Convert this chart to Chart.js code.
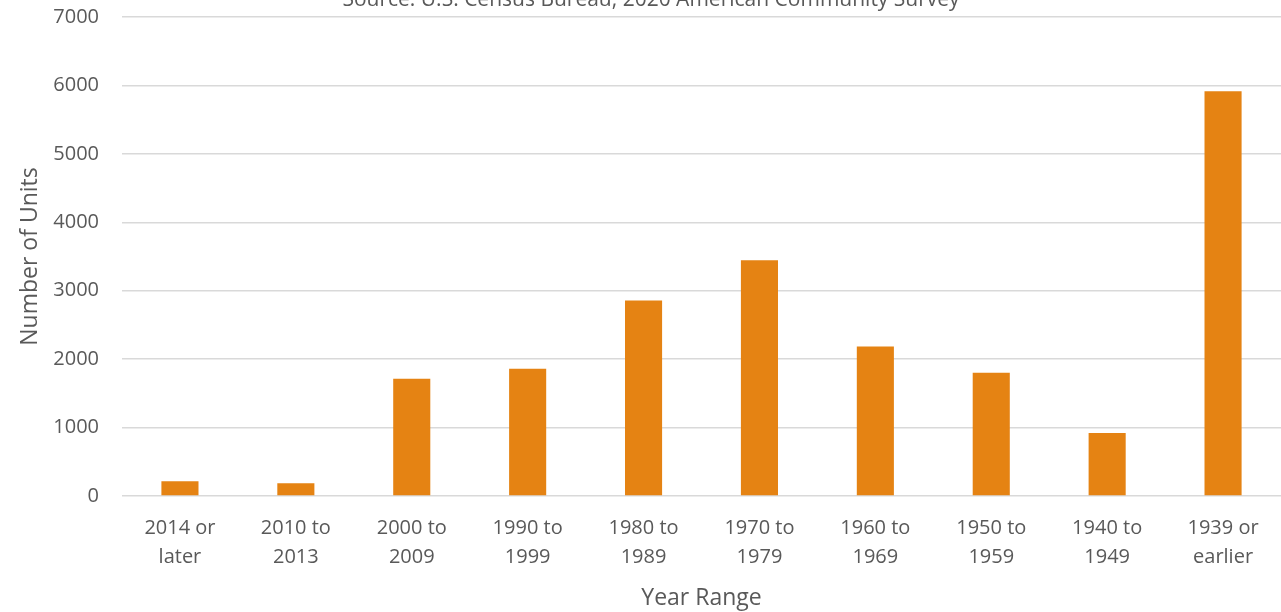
<!DOCTYPE html>
<html>
<head>
<meta charset="utf-8">
<script src="https://cdn.jsdelivr.net/npm/chart.js@4"></script>
<style>
  html, body { margin: 0; padding: 0; background: #fff; }
  #wrap { width: 1281px; height: 612px; }
</style>
</head>
<body>
<div id="wrap"><canvas id="chart"></canvas></div>
<script>
// data
const categories = [
  ["2014 or", "later"], ["2010 to", "2013"], ["2000 to", "2009"], ["1990 to", "1999"],
  ["1980 to", "1989"], ["1970 to", "1979"], ["1960 to", "1969"], ["1950 to", "1959"],
  ["1940 to", "1949"], ["1939 or", "earlier"]
];
const units = [215, 186, 1715, 1860, 2858, 3446, 2184, 1800, 921, 5914];
const yTicks = [0, 1000, 2000, 3000, 4000, 5000, 6000, 7000];
const sourceText = "Source: U.S. Census Bureau, 2020 American Community Survey";

const textColor = "#595959";
const fontFamily = "'Open Sans', sans-serif";

// the source line sits half cut off at the top edge
const sourceLine = {
  id: "sourceLine",
  afterDraw(chart) {
    const ctx = chart.ctx;
    ctx.save();
    ctx.fillStyle = textColor;
    ctx.font = "21px " + fontFamily;
    ctx.textAlign = "center";
    ctx.textBaseline = "alphabetic";
    ctx.fillText(sourceText, 651, 6);
    ctx.restore();
  },
};

new Chart(document.getElementById("chart"), {
  type: "bar",
  data: {
    labels: categories,
    datasets: [{
      data: units,
      backgroundColor: "#E58313",
      barPercentage: 0.64,
      categoryPercentage: 0.5,
    }],
  },
  options: {
    responsive: true,
    maintainAspectRatio: false,
    animation: false,
    layout: { padding: 0 },
    plugins: {
      legend: { display: false },
      tooltip: { enabled: false },
    },
    scales: {
      x: {
        grid: { display: false },
        border: { display: false },
        ticks: {
          color: textColor,
          font: { family: fontFamily, size: 20, lineHeight: 1.45 },
          padding: 10,
          maxRotation: 0,
        },
        title: {
          display: true,
          text: "Year Range",
          color: textColor,
          font: { family: fontFamily, size: 23 },
          padding: { top: 0, bottom: 0 },
        },
        afterFit(scale) { scale.height = 116; },
      },
      y: {
        min: 0,
        max: 7000,
        afterBuildTicks(scale) { scale.ticks = yTicks.map(v => ({ value: v })); },
        grid: { color: "#d9d9d9", lineWidth: 1.5, drawTicks: false },
        border: { display: false },
        ticks: {
          color: textColor,
          font: { family: fontFamily, size: 20 },
          padding: 23,
          callback: (v) => String(v),
        },
        title: {
          display: true,
          text: "Number of Units",
          color: textColor,
          font: { family: fontFamily, size: 23 },
          padding: { top: 17, bottom: 0 },
        },
        afterFit(scale) {
          scale.width = 122;
          // keep the 7000 gridline near the top edge
          scale.paddingTop = 17;
        },
      },
    },
  },
  plugins: [sourceLine],
});
</script>
</body>
</html>
